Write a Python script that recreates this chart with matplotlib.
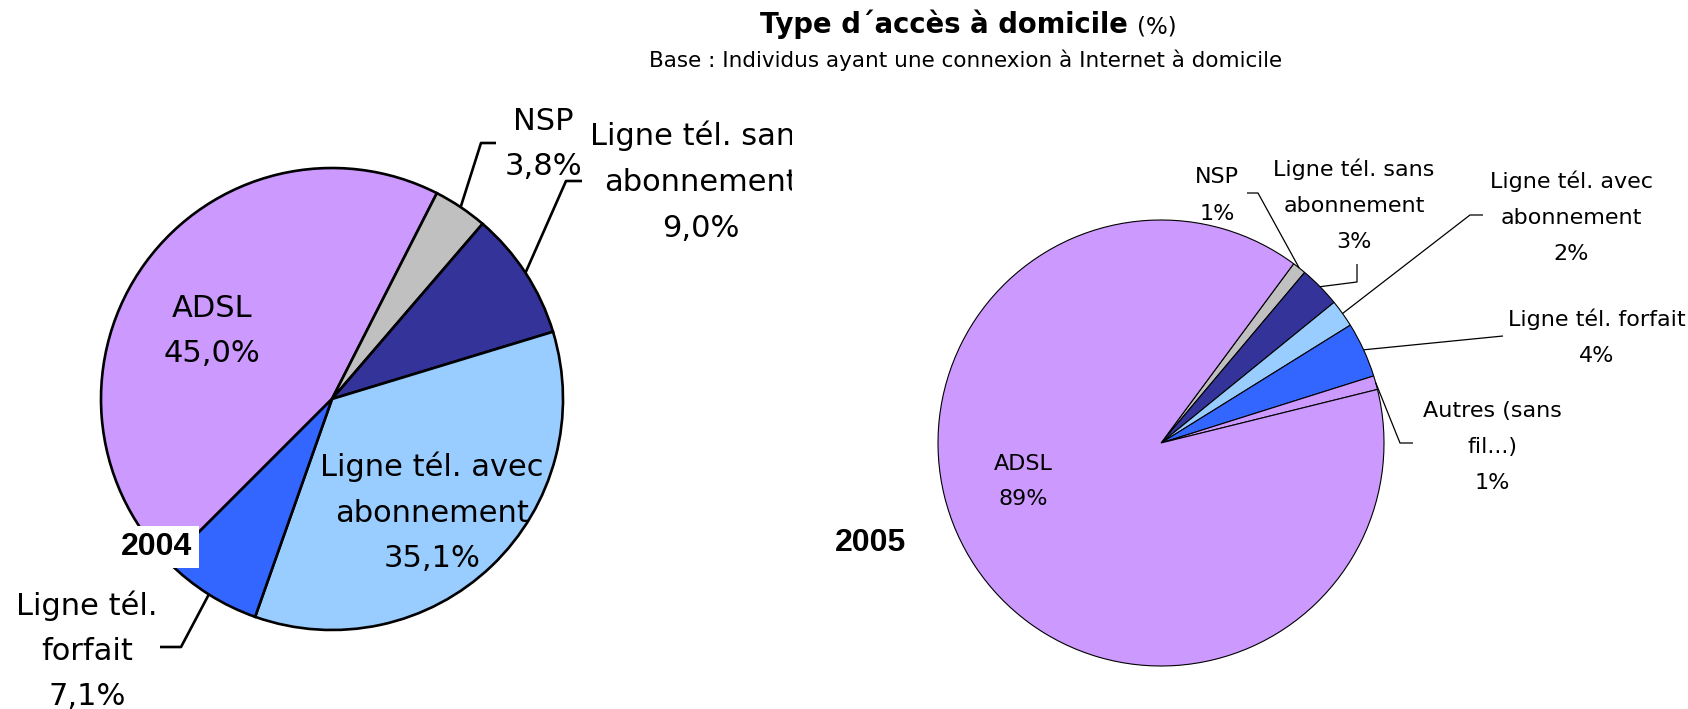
import numpy as np
import matplotlib.pyplot as plt
from matplotlib.transforms import Bbox, TransformedBbox

W, H = 1688, 709

# --- données ---
labels_2004 = ["ADSL", "NSP", "Ligne tél. sans\nabonnement",
               "Ligne tél. avec\nabonnement", "Ligne tél.\nforfait"]
values_2004 = [45.0, 3.8, 9.0, 35.1, 7.1]

labels_2005 = ["NSP", "Ligne tél. sans\nabonnement", "Ligne tél. avec\nabonnement",
               "Ligne tél. forfait", "Autres (sans\nfil...)", "ADSL"]
values_2005 = [1, 3, 2, 4, 1, 89]

colors_2004 = ["#CC99FF", "#C0C0C0", "#333399", "#99CCFF", "#3366FF"]
colors_2005 = ["#C0C0C0", "#333399", "#99CCFF", "#3366FF", "#CC99FF", "#CC99FF"]


def Y(y):
    # coordonnées pixel (origine en haut) -> données
    return H - y


fig = plt.figure(figsize=(W / 100, H / 100), dpi=100, facecolor="white")
ax = fig.add_axes([0, 0, 1, 1])

w04, _ = ax.pie(values_2004, colors=colors_2004, startangle=225, counterclock=False,
                radius=231, center=(332, Y(399)),
                wedgeprops=dict(edgecolor="black", linewidth=1.9))
w05, _ = ax.pie(values_2005, colors=colors_2005, startangle=53.5, counterclock=False,
                radius=223, center=(1161, Y(443)),
                wedgeprops=dict(edgecolor="black", linewidth=0.8))

ax.set_xlim(0, W)
ax.set_ylim(0, H)
ax.set_aspect("equal")
ax.axis("off")


def leader(wedge, pts, lw):
    a = np.deg2rad((wedge.theta1 + wedge.theta2) / 2)
    cx, cy = wedge.center
    xs = [cx + wedge.r * np.cos(a)] + [p[0] for p in pts]
    ys = [cy + wedge.r * np.sin(a)] + [Y(p[1]) for p in pts]
    ax.plot(xs, ys, color="black", lw=lw, solid_capstyle="butt")


def label(x, y0, lines, size, gap, clip_x=None):
    for i, s in enumerate(lines):
        t = ax.text(x, Y(y0 + i * gap), s, fontsize=size, ha="center",
                    va="baseline", family="DejaVu Sans", color="black")
        if clip_x is not None:
            t.set_clip_box(TransformedBbox(Bbox([[0, 0], [clip_x, H]]), ax.transData))
            t.set_clip_on(True)


def pct04(v):
    return f"{v:.1f}".replace(".", ",") + "%"


# --- 2004 ---
pos_2004 = [(212, 317, 45), (543, 130, 45), (701, 145, 46), (432, 476, 45.5), (87, 615, 45)]
for i, (x, y0, gap) in enumerate(pos_2004):
    lines = labels_2004[i].split("\n") + [pct04(values_2004[i])]
    # l'étiquette « sans abonnement » est coupée à droite dans l'original
    label(x, y0, lines, 22, gap, clip_x=792 if i == 2 else None)

leader(w04[1], [(481, 143), (496, 143)], 1.9)
leader(w04[2], [(566, 181), (582, 181)], 1.9)
leader(w04[4], [(181, 647), (160, 647)], 1.9)

ax.text(157, Y(555), "2004", fontsize=23, fontweight="bold", family="Liberation Sans",
        ha="center", va="baseline",
        bbox=dict(facecolor="white", edgecolor="none", boxstyle="square,pad=0.2"))

# --- 2005 ---
pos_2005 = [(1217, 183, 36.5), (1354, 176, 36), (1571, 188, 36),
            (1597, 326, 36), (1492, 417, 36), (1023, 470, 35)]
for i, (x, y0, gap) in enumerate(pos_2005):
    lines = labels_2005[i].split("\n") + [f"{values_2005[i]}%"]
    label(x, y0, lines, 16, gap)

leader(w05[0], [(1258, 193), (1247, 193)], 0.9)
leader(w05[1], [(1357, 282), (1357, 264)], 0.9)
leader(w05[2], [(1470, 215), (1483, 215)], 0.9)
leader(w05[3], [(1503, 336)], 0.9)
leader(w05[4], [(1400, 443), (1413, 443)], 0.9)

ax.text(871, Y(551), "2005", fontsize=23, fontweight="bold", family="Liberation Sans",
        ha="center", va="baseline")

# --- titre ---
ax.text(760, Y(33), "Type d´accès à domicile", fontsize=19.8, fontweight="bold",
        family="DejaVu Sans", ha="left", va="baseline")
ax.text(1137, Y(33), "(%)", fontsize=16.5, family="DejaVu Sans", ha="left", va="baseline")
ax.text(966, Y(67), "Base : Individus ayant une connexion à Internet à domicile",
        fontsize=15.5, family="DejaVu Sans", ha="center", va="baseline")

fig.savefig("out.png", dpi=100, facecolor="white")
